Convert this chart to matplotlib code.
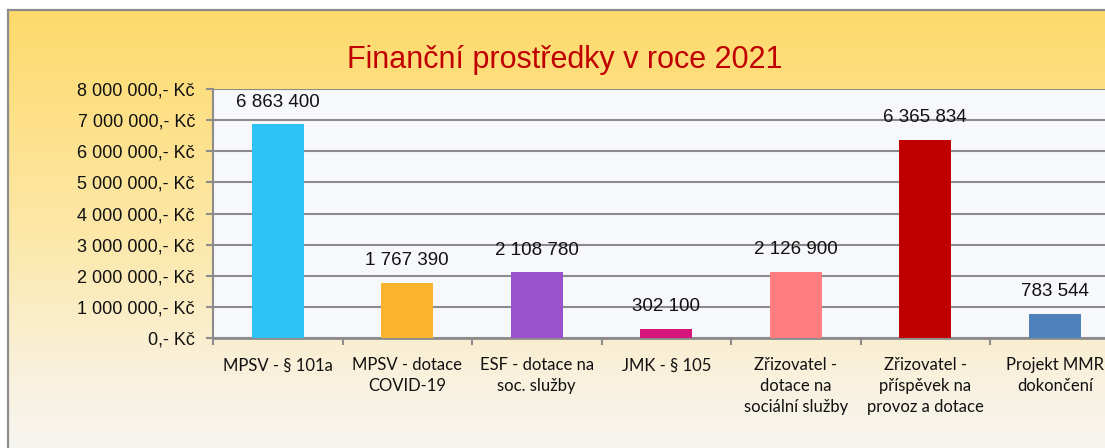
import numpy as np
import matplotlib
matplotlib.use("Agg")
import matplotlib.pyplot as plt
from matplotlib.colors import LinearSegmentedColormap
from matplotlib.lines import Line2D

categories = ["MPSV - § 101a", "MPSV - dotace\nCOVID-19", "ESF - dotace na\nsoc. služby",
              "JMK - § 105", "Zřizovatel -\ndotace na\nsociální služby",
              "Zřizovatel -\npříspěvek na\nprovoz a dotace", "Projekt MMR\ndokončení"]
values = [6863400, 1767390, 2108780, 302100, 2126900, 6365834, 783544]
colors = ["#2EC3F7", "#FBB42D", "#9A51CB", "#D6157A", "#FF7C80", "#C00000", "#4F81BD"]
yticks = [0, 1000000, 2000000, 3000000, 4000000, 5000000, 6000000, 7000000, 8000000]
title = "Finanční prostředky v roce 2021"

def fmt(v):
    return f"{v:,}".replace(",", " ")

def ytick_label(v):
    return f"{v:,}".replace(",", " ") + ",- Kč"

W, H = 1105, 448
fig = plt.figure(figsize=(W / 100, H / 100), dpi=100)
fig.patch.set_facecolor("white")

# background gradient
bg = fig.add_axes([0, 0, 1, 1], zorder=-10)
bg.axis("off")
cmap = LinearSegmentedColormap.from_list("bg", [
    (0.0, (254/255, 218/255, 106/255)),
    (0.5, (252/255, 232/255, 170/255)),
    (0.8, (249/255, 241/255, 222/255)),
    (1.0, (246/255, 246/255, 246/255)),
])
grad = np.linspace(0, 1, 256).reshape(-1, 1)
x0 = 8 / W
ytop = 1 - 10 / H
bg.imshow(grad, cmap=cmap, aspect="auto", extent=[x0, 1, -0.05, ytop], origin="upper")
bg.set_xlim(0, 1)
bg.set_ylim(0, 1)
bg.add_line(Line2D([x0, x0], [0, ytop], color="#8C8C8C", lw=1.6))
bg.add_line(Line2D([x0, 1], [ytop, ytop], color="#8C8C8C", lw=1.6))

left = 213 / W
right = 1119.5 / W
bottom = (H - 338) / H
top = (H - 89) / H
ax = fig.add_axes([left, bottom, right - left, top - bottom])
ax.set_facecolor("#F7F8FC")

x = np.arange(len(categories))
ax.bar(x, values, width=0.4, color=colors, zorder=3)
ax.set_xlim(-0.5, len(categories) - 0.5)
ax.set_ylim(0, 8000000)

ax.set_yticks(yticks)
ax.set_yticklabels([ytick_label(v) for v in yticks], fontfamily="Liberation Sans", fontsize=13,
                   color="#111111")
ax.yaxis.grid(True, color="#8C8C8C", lw=1.5, zorder=1)
ax.set_axisbelow(True)

ax.set_xticks(x)
ax.set_xticklabels(categories, fontfamily="Lato", fontsize=12, linespacing=1.35, color="#111111")
ax.set_xticks(np.arange(-0.5, len(categories), 1.0), minor=True)
ax.tick_params(axis="x", which="major", length=0, pad=14)
ax.tick_params(axis="x", which="minor", length=5, width=1.5, color="#8C8C8C")
ax.tick_params(axis="y", length=5, width=1.5, color="#8C8C8C", pad=8)

for s in ["top", "right"]:
    ax.spines[s].set_visible(False)
ax.spines["left"].set_color("#8C8C8C")
ax.spines["left"].set_linewidth(1.5)
ax.spines["bottom"].set_color("#8C8C8C")
ax.spines["bottom"].set_linewidth(2)

for xi, v in zip(x, values):
    ax.annotate(fmt(v), (xi, v), xytext=(0, 16), textcoords="offset points",
                ha="center", va="center", fontsize=13.5, fontfamily="Liberation Sans",
                color="#111111", zorder=5)

fig.text(565 / W, 1 - 60 / H, title, ha="center", va="center", color="#C00000",
         fontsize=22, fontfamily="Liberation Sans")

fig.savefig("out.png", dpi=100, facecolor=fig.get_facecolor())
